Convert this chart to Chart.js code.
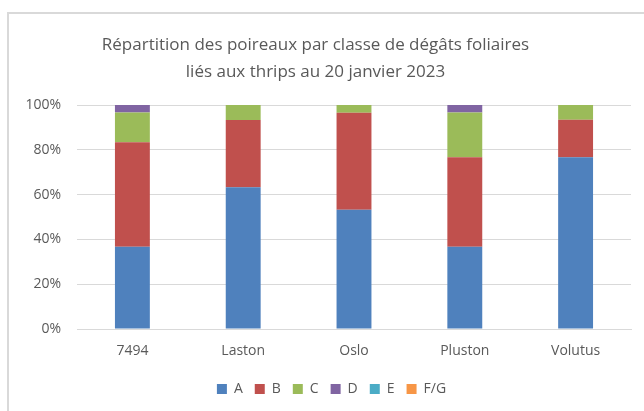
<!DOCTYPE html>
<html>
<head>
<meta charset="utf-8">
<script src="https://cdn.jsdelivr.net/npm/chart.js@4/dist/chart.umd.min.js"></script>
<style>
  body { margin: 0; background: #fff; }
  #wrap { position: relative; width: 644px; height: 411px; overflow: hidden; }
  #frame { position: absolute; left: 7px; top: 12px; width: 700px; height: 500px;
           border-left: 2px solid #D9D9D9; border-top: 2px solid #D9D9D9; }
  canvas { position: absolute; left: 0; top: 0; }
</style>
</head>
<body>
<div id="wrap">
  <div id="frame"></div>
  <canvas id="barChart" width="644" height="411"></canvas>
</div>
<script>
var varieties = ["7494", "Laston", "Oslo", "Pluston", "Volutus"];
var classA = [36.7, 63.3, 53.3, 36.7, 76.7];
var classB = [46.7, 30.0, 43.3, 40.0, 16.7];
var classC = [13.3, 6.7, 3.4, 20.0, 6.7];
var classD = [3.3, 0, 0, 3.3, 0];
var classE = [0, 0, 0, 0, 0];
var classFG = [0, 0, 0, 0, 0];
var yTicks = [0, 20, 40, 60, 80, 100];

var textGrey = "#595959";

function serie(label, values, color) {
    return {
        label: label,
        data: values,
        backgroundColor: color,
        borderWidth: 0,
        categoryPercentage: 1,
        barPercentage: 0.315
    };
}

// legend sits a bit right of centre in the original
var shiftLegend = {
    id: 'shiftLegend',
    afterLayout: function (chart) {
        chart.legend.left += 16;
        chart.legend.right += 16;
    }
};

var ctx = document.getElementById("barChart");
var myChart = new Chart(ctx, {
    type: 'bar',
    data: {
        labels: varieties,
        datasets: [
            serie("A", classA, "#4F81BD"),
            serie("B", classB, "#C0504D"),
            serie("C", classC, "#9BBB59"),
            serie("D", classD, "#8064A2"),
            serie("E", classE, "#4BACC6"),
            serie("F/G", classFG, "#F79646")
        ]
    },
    plugins: [shiftLegend],
    options: {
        responsive: false,
        animation: false,
        layout: { padding: { left: 0, right: 13, top: 0, bottom: 5 } },
        plugins: {
            title: {
                display: true,
                text: ["Répartition des poireaux par classe de dégâts foliaires",
                       "liés aux thrips au 20 janvier 2023"],
                color: textGrey,
                font: { family: "'Open Sans'", size: 17, weight: 'normal', lineHeight: 1.59 },
                padding: { top: 32, bottom: 19 }
            },
            legend: {
                position: 'bottom',
                labels: {
                    color: textGrey,
                    font: { family: "'Open Sans'", size: 14 },
                    boxWidth: 10,
                    boxHeight: 10,
                    padding: 12
                }
            },
            tooltip: { enabled: false }
        },
        scales: {
            x: {
                stacked: true,
                afterFit: function (scale) { scale.height = 41; },
                grid: { display: false },
                border: { color: "#D9D9D9", width: 1 },
                ticks: {
                    color: textGrey,
                    font: { family: "'Open Sans'", size: 14 },
                    padding: 6
                }
            },
            y: {
                stacked: true,
                min: 0,
                max: 100,
                afterFit: function (scale) { scale.width = 77; },
                afterBuildTicks: function (scale) {
                    scale.ticks = yTicks.map(function (v) { return { value: v }; });
                },
                grid: { color: "#D9D9D9", lineWidth: 1, drawTicks: false },
                border: { display: false },
                ticks: {
                    color: textGrey,
                    font: { family: "'Open Sans'", size: 14 },
                    padding: 16,
                    callback: function (v) { return v + "%"; }
                }
            }
        }
    }
});
</script>
</body>
</html>
